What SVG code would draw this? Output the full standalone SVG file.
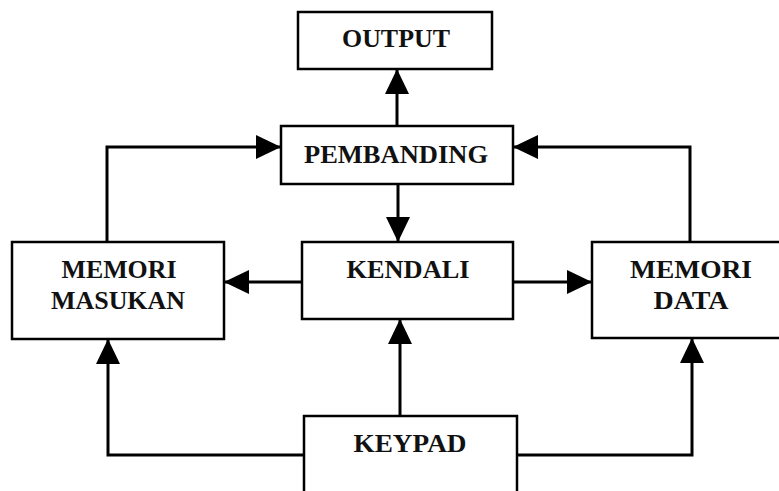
<svg xmlns="http://www.w3.org/2000/svg" width="779" height="491" viewBox="0 0 779 491">
<style>
.box{fill:#fff;stroke:#000;stroke-width:2.5}
.lbl{font-family:"Liberation Serif","Times New Roman",serif;font-weight:bold;font-size:25px;fill:#111;text-anchor:middle}
.con{fill:none;stroke:#000;stroke-width:3;marker-end:url(#ah)}
</style>
<defs>
<marker id="ah" markerUnits="userSpaceOnUse" markerWidth="26" markerHeight="24" refX="25" refY="12" orient="auto">
<path d="M0,0 L25,12 L0,24 Z" fill="#000"/>
</marker>
</defs>
<rect width="779" height="491" fill="#fff"/>
<g id="output"><rect class="box" x="298" y="12" width="194" height="57"/><text class="lbl" x="396" y="47" textLength="108" lengthAdjust="spacingAndGlyphs">OUTPUT</text></g>
<g id="pembanding"><rect class="box" x="281" y="126" width="232" height="58"/><text class="lbl" x="396" y="163" textLength="184" lengthAdjust="spacingAndGlyphs">PEMBANDING</text></g>
<g id="memori-masukan"><rect class="box" x="12" y="242" width="212" height="97"/><text class="lbl" x="119" y="278" textLength="115" lengthAdjust="spacingAndGlyphs">MEMORI</text><text class="lbl" x="118" y="309" textLength="134" lengthAdjust="spacingAndGlyphs">MASUKAN</text></g>
<g id="kendali"><rect class="box" x="302" y="242" width="211" height="77"/><text class="lbl" x="408" y="278" textLength="123" lengthAdjust="spacingAndGlyphs">KENDALI</text></g>
<g id="memori-data"><rect class="box" x="592" y="242" width="200" height="96"/><text class="lbl" x="691" y="278" textLength="122" lengthAdjust="spacingAndGlyphs">MEMORI</text><text class="lbl" x="691" y="309" textLength="75" lengthAdjust="spacingAndGlyphs">DATA</text></g>
<g id="keypad"><rect class="box" x="304" y="416" width="213" height="90"/><text class="lbl" x="410" y="452" textLength="113" lengthAdjust="spacingAndGlyphs">KEYPAD</text></g>
<g id="connectors">
<path class="con" d="M397,126 V69"/>
<path class="con" d="M107,242 V147 H281"/>
<path class="con" d="M690,242 V147 H513"/>
<path class="con" d="M398,184 V242"/>
<path class="con" d="M302,282 H224"/>
<path class="con" d="M513,282 H592"/>
<path class="con" d="M400,416 V319"/>
<path class="con" d="M304,455 H108 V339"/>
<path class="con" d="M517,455 H692 V338"/>
</g>
</svg>
